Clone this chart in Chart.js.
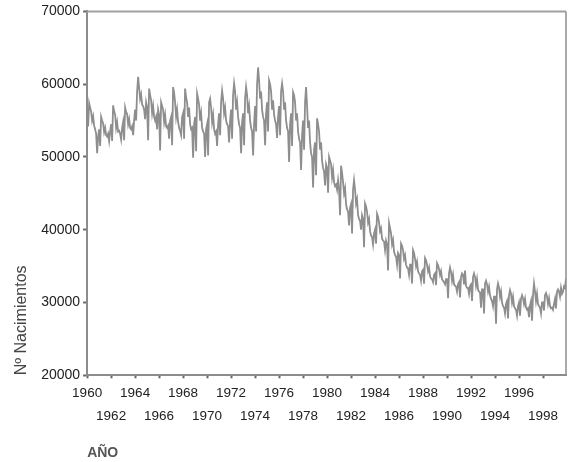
<!DOCTYPE html>
<html>
<head>
<meta charset="utf-8">
<script src="https://cdn.jsdelivr.net/npm/chart.js@4/dist/chart.umd.min.js"></script>
<style>
html,body{margin:0;padding:0;background:#fff;}
#wrap{width:571px;height:462px;}
</style>
</head>
<body>
<div id="wrap"><canvas id="c" width="571" height="462"></canvas></div>
<script>
// Monthly births (Jan..Dec of each year)
const startYear = 1960;
const births1960s = [
  55500,54200,57400,56800,56200,55000,55600,54300,53800,53200,50500,52800,
  53800,51500,55500,55000,54600,53400,54000,53000,52800,53200,52200,53500,
  54500,52200,57100,56300,55800,54000,54800,53500,53600,53200,52400,54000,
  54800,52300,56800,56200,55900,54500,55200,54000,53800,54200,53000,55000,
  56500,55000,59000,61000,59500,58000,58600,57200,57000,56500,55200,57500,
  56800,52300,59400,58500,57800,56000,57000,55500,55000,55500,53800,56500,
  55800,50900,57500,57000,56500,54800,55800,54200,54000,54300,52500,55000,
  55500,51600,59600,58800,57500,55500,56500,54800,54000,53600,53000,55500,
  56000,52500,59400,58200,57500,55500,56800,54500,53800,54000,49900,54500,
  55500,50800,58700,58000,57200,55000,56000,54000,53500,53200,50000,53800
];
const births1970s = [
  54500,50200,57500,58000,56800,54800,55800,53800,53200,53500,51500,54500,
  56000,53000,57500,59100,58000,56000,56800,55000,54500,54200,52000,55000,
  56500,52500,58500,60100,59000,56500,57500,55500,54500,54000,50500,54800,
  56000,51600,58000,59600,58500,56000,57000,55000,54000,53500,50200,54500,
  57000,53500,60000,62300,60500,58000,59000,56500,55500,55000,51600,56000,
  57500,53500,60500,60000,59000,56500,57800,55800,55000,54500,52600,55500,
  57000,53000,59000,60100,59000,56500,57500,55000,54000,53500,49300,54500,
  56000,51500,58900,58500,57500,55000,56000,53500,52500,52000,48200,53000,
  55000,51000,57500,59600,57000,54000,55000,52000,50500,50000,45800,51000,
  52000,47500,55300,54500,53500,51000,52000,49500,48500,48000,46100,49000
];
const births1980s = [
  48500,45100,50000,49500,49000,47200,48200,46500,46000,46200,45500,46800,
  45500,42000,48800,47800,46500,45000,45700,43500,42800,42500,40600,43000,
  43500,39500,45500,46800,45500,43600,44200,42000,41500,41200,40000,42000,
  41500,37600,43600,43200,42500,41000,41500,39800,39200,39000,38000,39500,
  40000,38100,42200,41800,41000,39800,40200,38800,38500,38400,37200,38500,
  38000,34400,40900,40200,39500,38000,38600,37000,36500,36300,35200,36800,
  36500,33300,38100,37800,37200,36000,36500,35200,34800,34700,33800,35200,
  35200,32600,37200,36800,36000,35000,35600,34300,34000,33800,33000,34300,
  34500,32600,36100,35800,35200,34300,34800,33600,33300,33200,32800,33800,
  34000,32400,35400,35100,34600,33800,34300,33200,33000,32800,32500,33200
];
const births1990s = [
  33200,30600,34000,34800,34200,33000,33800,32500,32300,32200,31500,32500,
  32800,30700,33500,34000,33800,32500,34400,32300,32000,32000,31200,32300,
  32500,30200,33500,34000,33500,32300,33200,31800,31500,31400,29300,31800,
  31800,28500,32600,33000,32500,31500,32200,31000,30500,30200,29500,30800,
  30800,27100,31800,32600,32000,30800,31500,30000,29500,29300,28500,29800,
  30200,27800,31000,31700,31200,30000,30800,29500,29200,29000,28200,29500,
  30000,28200,30500,31000,30600,29800,30500,29300,29000,29200,28000,29600,
  30200,27500,31000,32600,31500,30200,31200,29800,29500,29300,28500,30000,
  30000,28900,31000,31300,30800,29800,30600,29500,29200,29300,29000,29800,
  30500,29200,31500,31800,31500,30800,32000,31200,31500,32200,32000,33300
];
const tickYears = [1960,1962,1964,1966,1968,1970,1972,1974,1976,1978,1980,1982,1984,1986,1988,1990,1992,1994,1996,1998];
const yTicks = [20000,30000,40000,50000,60000,70000];

const allBirths = births1960s.concat(births1970s, births1980s, births1990s);
const points = allBirths.map((v, i) => ({ x: startYear + i / 12, y: v }));

const framePlugin = {
  id: 'frame',
  afterDraw(chart) {
    const a = chart.chartArea, ctx = chart.ctx;
    ctx.save();
    ctx.strokeStyle = '#a0a0a0';
    ctx.lineWidth = 2;
    ctx.beginPath();
    ctx.moveTo(a.left, a.top);
    ctx.lineTo(a.right, a.top);
    ctx.stroke();
    ctx.lineWidth = 1.5;
    ctx.strokeStyle = '#8c8c8c';
    ctx.beginPath();
    ctx.moveTo(a.right, a.top);
    ctx.lineTo(a.right, a.bottom);
    ctx.stroke();
    ctx.restore();
  }
};

new Chart(document.getElementById('c'), {
  type: 'line',
  data: {
    datasets: [{
      data: points,
      borderColor: '#8e8e8e',
      borderWidth: 1.8,
      pointRadius: 0,
      tension: 0,
      fill: false
    }]
  },
  options: {
    responsive: false,
    animation: false,
    layout: { padding: { top: 4, right: 5, left: 10, bottom: 0 } },
    plugins: { legend: { display: false }, tooltip: { enabled: false } },
    scales: {
      x: {
        type: 'linear',
        min: startYear,
        max: startYear + (allBirths.length - 1) / 12,
        afterBuildTicks(scale) { scale.ticks = tickYears.map(v => ({ value: v })); },
        ticks: {
          autoSkip: false,
          maxRotation: 0,
          color: '#222',
          padding: 4,
          font: { family: 'Liberation Sans, Arial, sans-serif', size: 13.5, lineHeight: 1.7 },
          callback: (v) => ((v - startYear) % 4 === 0 ? [String(v), ''] : ['', String(v)])
        },
        grid: { drawOnChartArea: false, drawTicks: true, tickLength: 3, color: '#666', tickWidth: 2 },
        border: { color: '#8c8c8c', width: 2 },
        title: {
          display: true, text: 'AÑO', align: 'start', color: '#555',
          font: { family: 'Liberation Sans, Arial, sans-serif', size: 14, weight: 'bold' },
          padding: { top: 13, bottom: 0 }
        }
      },
      y: {
        min: 20000, max: 70000,
        afterBuildTicks(scale) { scale.ticks = yTicks.map(v => ({ value: v })); },
        ticks: {
          color: '#222',
          padding: 3,
          font: { family: 'Liberation Sans, Arial, sans-serif', size: 14 },
          callback: (v) => String(v)
        },
        grid: { drawOnChartArea: false, drawTicks: true, tickLength: 4, color: '#666', tickWidth: 2 },
        border: { color: '#8c8c8c', width: 2 },
        title: {
          display: true, text: 'Nº Nacimientos', align: 'start', color: '#444',
          font: { family: 'Liberation Sans, Arial, sans-serif', size: 16 },
          padding: { top: 2, bottom: 7 }
        }
      }
    }
  },
  plugins: [framePlugin]
});
</script>
</body>
</html>
